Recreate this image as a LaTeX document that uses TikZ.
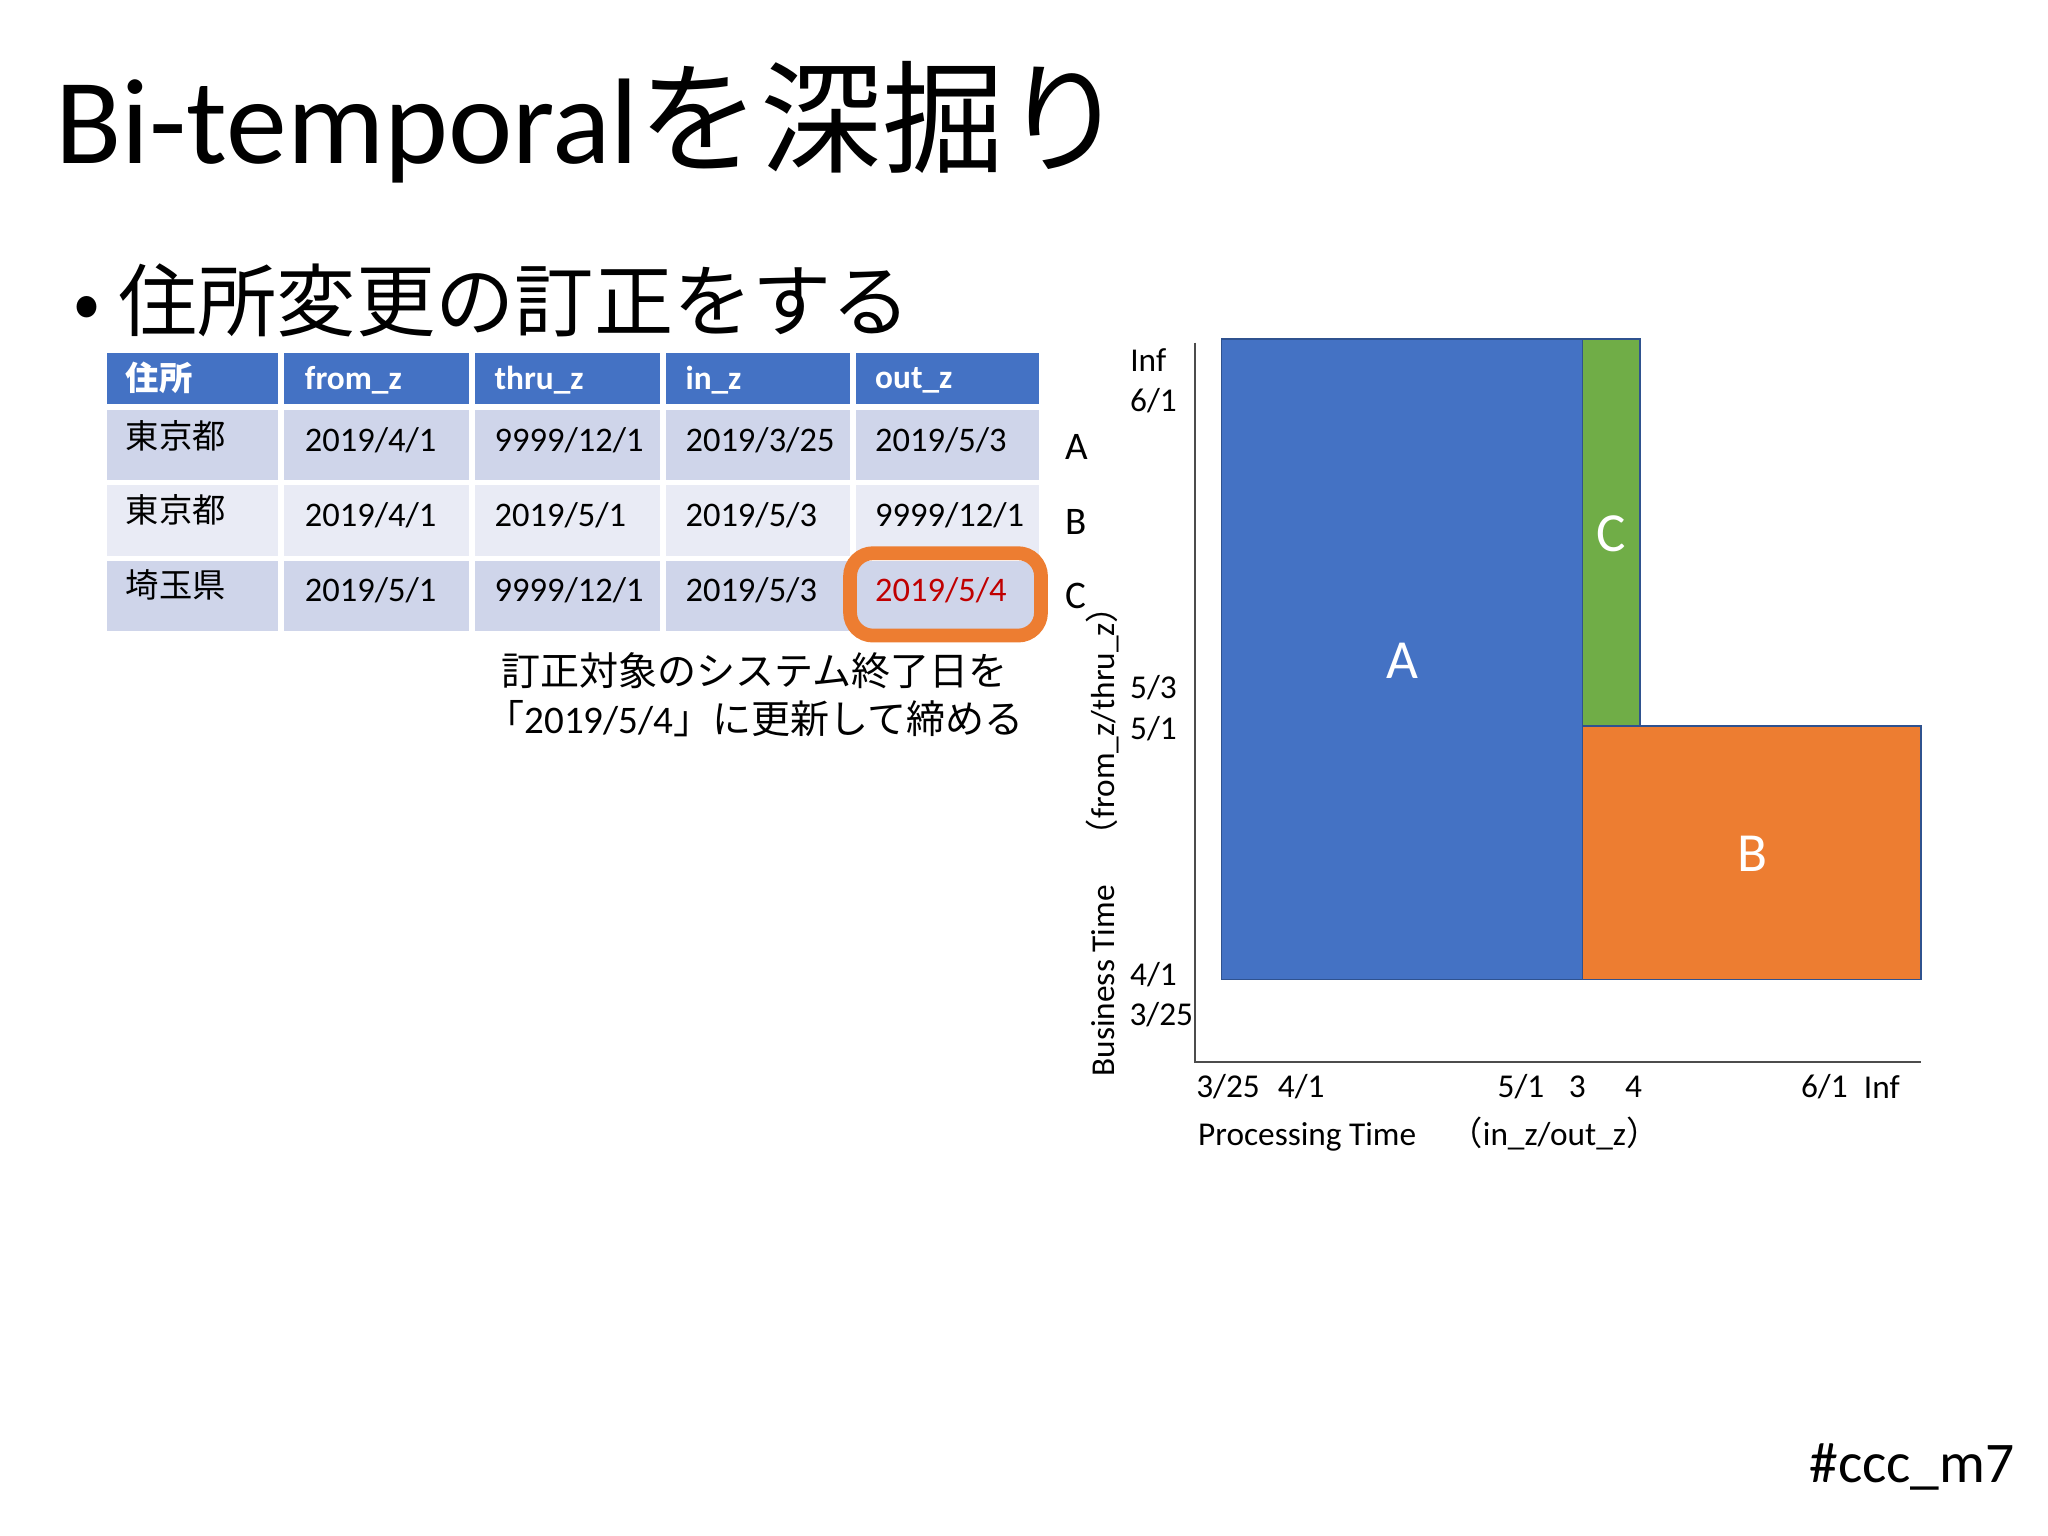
\documentclass[tikz,border=0pt]{standalone}
\usepackage{fontspec}
\setmainfont{Carlito}
\newfontfamily\jp{Noto Sans CJK JP}
\definecolor{hdr}{HTML}{4472C4}
\definecolor{rowa}{HTML}{CFD5EA}
\definecolor{rowb}{HTML}{E9EBF5}
\definecolor{orng}{HTML}{ED7D31}
\definecolor{grn}{HTML}{70AD47}
\definecolor{edge}{HTML}{2F528F}
\definecolor{redt}{HTML}{C00000}
\begin{document}
\begin{tikzpicture}[x=0.02cm,y=-0.02cm,
  cell/.style={draw=white,line width=2.5pt},
  ctext/.style={anchor=west,font=\fontsize{15}{18}\selectfont},
  htext/.style={anchor=west,font=\bfseries\fontsize{14.5}{18}\selectfont,text=white},
  jtext/.style={anchor=west,font=\jp\fontsize{14.5}{18}\selectfont},
  lbl/.style={font=\fontsize{17}{20}\selectfont},
  axl/.style={font=\fontsize{14.5}{18}\selectfont},
  big/.style={font=\fontsize{24}{28}\selectfont,text=white},
  blk/.style={draw=edge,line width=0.8pt}]
\path[use as bounding box] (0,0) rectangle (1566,1174.5);
\node[anchor=base west,inner sep=0,font=\fontsize{53}{60}\selectfont] (title) at (42,125) {Bi-temporal{\jp を深掘り}};
\node[anchor=west,inner sep=0,font=\jp\fontsize{34.5}{40}\selectfont] (head) at (56,230) {• 住所変更の訂正をする};
% table
\foreach \x/\xx [count=\i] in {80/215,215/361,361/507,507/652,652/797}{
  \fill[hdr,cell] (\x,268) rectangle (\xx,311);
  \fill[rowa,cell] (\x,311) rectangle (\xx,369);
  \fill[rowb,cell] (\x,369) rectangle (\xx,427);
  \fill[rowa,cell] (\x,427) rectangle (\xx,485);
}
\node[htext,font=\jp\bfseries\fontsize{14.5}{18}\selectfont] (h1) at (90,289) {住所};
\node[htext] (h2) at (227,291) {from\_z};
\node[htext] (h3) at (372,291) {thru\_z};
\node[htext] (h4) at (518,291) {in\_z};
\node[htext] (h5) at (663,291) {out\_z};
\foreach \y/\a/\b/\c/\d/\e in {335/東京都/2019\slash4\slash1/9999\slash12\slash1/2019\slash3\slash25/2019\slash5\slash3,
  392/東京都/2019\slash4\slash1/2019\slash5\slash1/2019\slash5\slash3/9999\slash12\slash1}{
  \node[jtext] at (90,\y-2) {\a};
  \node[ctext] at (227,\y+2) {\b};
  \node[ctext] at (372,\y+2) {\c};
  \node[ctext] at (518,\y+2) {\d};
  \node[ctext] at (663,\y+2) {\e};
}
\node[jtext] (r3a) at (90,447) {埼玉県};
\node[ctext] (r3b) at (227,451) {2019/5/1};
\node[ctext] (r3c) at (372,451) {9999/12/1};
\node[ctext] (r3d) at (518,451) {2019/5/3};
\node[ctext,text=redt] (r3e) at (663,451) {2019/5/4};
\draw[orng,line width=6pt,rounded corners=10pt] (650,423) rectangle (796,486);
\node[lbl] (la) at (823,342) {A};
\node[lbl] (lb) at (823,399) {B};
\node[lbl] (lc) at (823,456) {C};
\node[align=center,font=\jp\fontsize{17}{21}\selectfont] (note) at (577,531) {訂正対象のシステム終了日を\\「{\fontspec{Carlito}2019/5/4}」に更新して締める};
% chart
\draw[black!70,line width=0.8pt] (914,262) -- (914,812) -- (1469,812);
\fill[hdr,blk] (934,259) rectangle (1210,749);
\fill[grn,blk] (1210,259) rectangle (1254,555);
\fill[orng,blk] (1210,555) rectangle (1469,749);
\node[big] (A) at (1072,505) {A};
\node[big] (C) at (1232,408) {C};
\node[big] (B) at (1340,653) {B};
\foreach \t/\y/\xx in {Inf/275/878,6\slash1/306/882,5\slash3/526/882,5\slash1/557/882,4\slash1/745/882,3\slash25/776/888}
  \node[axl] at (\xx,\y) {\t};
\foreach \t/\x in {3\slash25/939,4\slash1/995,5\slash1/1163,3/1206,4/1249,6\slash1/1395,Inf/1439}
  \node[axl] at (\x,831) {\t};
\node[axl,anchor=west] (pt) at (910,867) {Processing Time\quad{\jp （}in\_z/out\_z{\jp ）}};
\node[axl,rotate=90] (bt) at (843,637) {Business Time\quad{\jp （}from\_z/thru\_z{\jp ）}};
\node[font=\fontsize{25}{30}\selectfont] (tag) at (1462,1122) {\#ccc\_m7};
\end{tikzpicture}
\end{document}
